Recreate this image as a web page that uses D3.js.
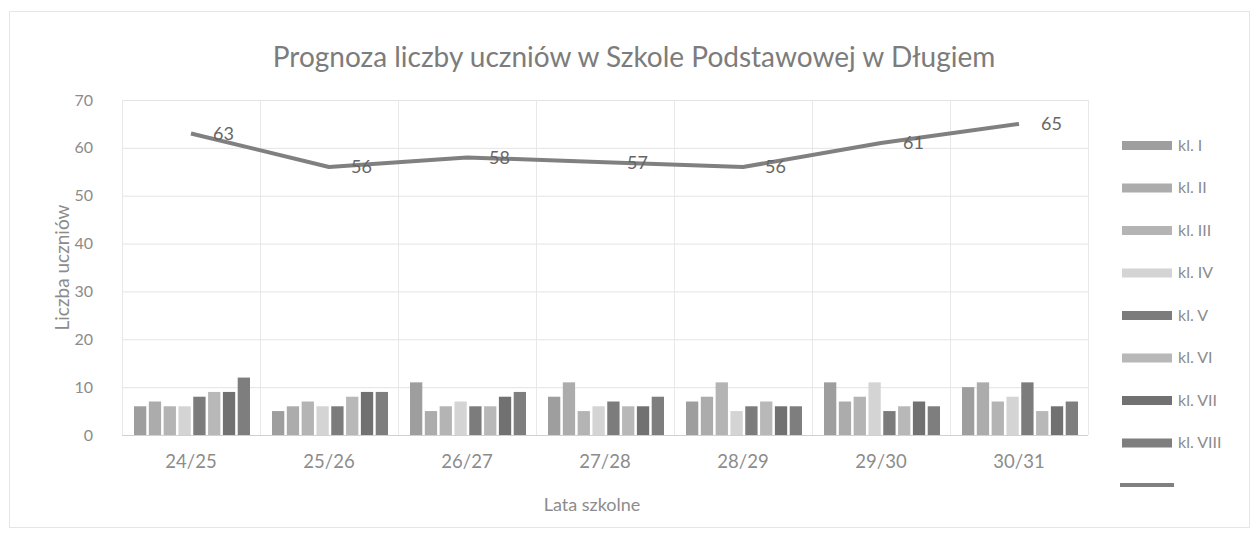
<!DOCTYPE html>
<html><head><meta charset="utf-8">
<script src="https://cdn.jsdelivr.net/npm/d3@7"></script>
<style>body{margin:0;background:#fff}svg{display:block}</style>
</head><body>
<script>
const categories = ["24/25","25/26","26/27","27/28","28/29","29/30","30/31"];
const seriesNames = ["kl. I","kl. II","kl. III","kl. IV","kl. V","kl. VI","kl. VII","kl. VIII"];
const kl1 = [6,5,11,8,7,11,10];
const kl2 = [7,6,5,11,8,7,11];
const kl3 = [6,7,6,5,11,8,7];
const kl4 = [6,6,7,6,5,11,8];
const kl5 = [8,6,6,7,6,5,11];
const kl6 = [9,8,6,6,7,6,5];
const kl7 = [9,9,8,6,6,7,6];
const kl8 = [12,9,9,8,6,6,7];
const totals = [63,56,58,57,56,61,65];
const yTicks = [0,10,20,30,40,50,60,70];
const colors = ["#9e9e9e","#acacac","#b4b4b4","#d4d4d4","#7c7c7c","#b8b8b8","#717171","#7e7e7e"];
const lineColor = "#808080";

const series = [kl1,kl2,kl3,kl4,kl5,kl6,kl7,kl8];
const W = 1258, H = 536;
const font = "Lato, 'Open Sans', sans-serif";
const svg = d3.select("body").append("svg").attr("width", W).attr("height", H);

svg.append("rect").attr("x", 9.5).attr("y", 11.5).attr("width", 1240).attr("height", 516)
  .attr("fill", "#fff").attr("stroke", "#e6e6e6");

const pLeft = 122, pRight = 1088, pTop = 100, pBottom = 435;
const x0 = d3.scaleBand().domain(categories).range([pLeft, pRight]).padding(0);
const x1 = d3.scaleBand().domain(seriesNames).range([12, x0.bandwidth() - 10]).paddingInner(0.17);
const y = d3.scaleLinear().domain([0, 70]).range([pBottom, pTop]);

// gridlines
svg.append("g").selectAll("line").data(yTicks).join("line")
  .attr("x1", pLeft).attr("x2", pRight).attr("y1", d => y(d) + 0.5).attr("y2", d => y(d) + 0.5)
  .attr("stroke", d => d === 0 ? "#d0d0d0" : "#e4e4e4");
const bounds = categories.map(c => x0(c)).concat([pRight]);
svg.append("g").selectAll("line").data(bounds).join("line")
  .attr("x1", d => d + 0.5).attr("x2", d => d + 0.5).attr("y1", pTop).attr("y2", pBottom)
  .attr("stroke", "#e8e8e8");

// y axis labels
const yAxis = d3.axisLeft(y).tickValues(yTicks).tickSize(0).tickPadding(0);
const gy = svg.append("g").attr("transform", `translate(${pLeft - 29},0)`).call(yAxis);
gy.select(".domain").remove();
gy.selectAll("text").attr("font-family", font).attr("font-size", 16).attr("fill", "#8c8c8c");

// x axis labels
const xAxis = d3.axisBottom(x0).tickSize(0).tickPadding(0);
const gx = svg.append("g").attr("transform", `translate(0,${pBottom + 20})`).call(xAxis);
gx.select(".domain").remove();
gx.selectAll("text").attr("font-family", font).attr("font-size", 18.5).attr("fill", "#8c8c8c");

// bars
const groups = svg.append("g").selectAll("g").data(categories).join("g")
  .attr("transform", c => `translate(${x0(c)},0)`);
groups.selectAll("rect").data((c, i) => series.map((s, k) => ({k, v: s[i]}))).join("rect")
  .attr("x", d => x1(seriesNames[d.k])).attr("width", x1.bandwidth())
  .attr("y", d => y(d.v)).attr("height", d => y(0) - y(d.v))
  .attr("fill", d => colors[d.k]);

// total line
const line = d3.line().x((d, i) => x0(categories[i]) + x0.bandwidth() / 2).y(d => y(d));
svg.append("path").datum(totals).attr("d", line).attr("fill", "none")
  .attr("stroke", lineColor).attr("stroke-width", 4).attr("stroke-linejoin", "round");
svg.append("g").selectAll("text").data(totals).join("text")
  .attr("x", (d, i) => x0(categories[i]) + x0.bandwidth() / 2 + 22)
  .attr("y", d => y(d)).attr("dy", "0.35em")
  .attr("font-family", font).attr("font-size", 18).attr("fill", "#666")
  .text(d => d);

// titles
svg.append("text").attr("x", 634).attr("y", 57).attr("dy", "0.35em").attr("text-anchor", "middle")
  .attr("font-family", font).attr("font-size", 28).attr("fill", "#7c7c7c")
  .text("Prognoza liczby uczniów w Szkole Podstawowej w Długiem");
svg.append("text").attr("transform", `translate(62,${(pTop + pBottom) / 2}) rotate(-90)`)
  .attr("dy", "0.35em").attr("text-anchor", "middle")
  .attr("font-family", font).attr("font-size", 19).attr("fill", "#8c8c8c")
  .text("Liczba uczniów");
svg.append("text").attr("x", 592).attr("y", 505).attr("dy", "0.35em").attr("text-anchor", "middle")
  .attr("font-family", font).attr("font-size", 18).attr("fill", "#8c8c8c")
  .text("Lata szkolne");

// legend
const lg = svg.append("g");
const legY = d3.scalePoint().domain(d3.range(9)).range([145, 485]);
seriesNames.forEach((n, k) => {
  lg.append("rect").attr("x", 1122).attr("y", legY(k) - 4).attr("width", 50).attr("height", 9).attr("fill", colors[k]);
  lg.append("text").attr("x", 1178).attr("y", legY(k)).attr("dy", "0.35em")
    .attr("font-family", font).attr("font-size", 16).attr("fill", "#8c8c8c").text(n);
});
lg.append("line").attr("x1", 1120).attr("x2", 1174).attr("y1", legY(8)).attr("y2", legY(8))
  .attr("stroke", lineColor).attr("stroke-width", 4);
</script>
</body></html>
